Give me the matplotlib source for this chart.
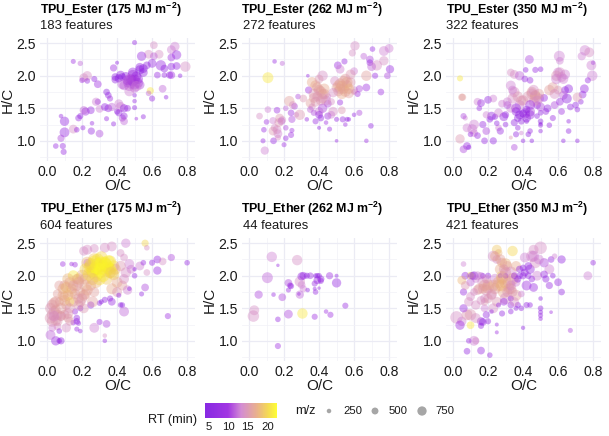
import numpy as np
import matplotlib.pyplot as plt
from matplotlib.colors import LinearSegmentedColormap

plt.rcParams["font.family"] = ["Liberation Sans", "DejaVu Sans"]
plt.rcParams["mathtext.fontset"] = "custom"
plt.rcParams["mathtext.bf"] = "Liberation Sans:bold"
plt.rcParams["mathtext.rm"] = "Liberation Sans:bold"
plt.rcParams["mathtext.default"] = "bf"

W, H = 609, 436

# values: O/C, H/C, m/z, RT for each panel
e175_oc = [.50, .61, .58, .64, .54, .61, .71, .73, .74, .71,
           .15, .19, .40, .38, .79, .65, .74, .71, .67, .60,
           .55, .53, .57, .63, .67, .70, .71, .76, .21, .23,
           .23, .20, .27, .29, .39, .41, .39, .43, .42, .45,
           .49, .50, .47, .52, .48, .50, .53, .51, .49, .46,
           .59, .58, .66, .60, .68, .50, .50, .50, .34, .35,
           .36, .29, .28, .25, .22, .18, .19, .21, .30, .33,
           .35, .37, .40, .41, .42, .44, .46, .41, .43, .44,
           .34, .38, .44, .51, .55, .08, .10, .15, .10, .08,
           .05, .09, .095, .17, .205, .257, .253, .30, .47, .43,
           .48, .50, .47, .52, .44, .55, .53, .49, .46, .51]
e175_hc = [2.51, 2.47, 2.33, 2.33, 2.30, 2.30, 2.40, 2.45, 2.32, 2.28,
           2.22, 2.19, 2.20, 2.12, 2.14, 2.16, 2.15, 2.14, 2.11, 2.19,
           2.11, 2.09, 2.16, 2.01, 2.01, 2.01, 2.01, 2.00, 1.97, 2.00,
           1.92, 1.93, 1.95, 1.87, 1.98, 1.96, 1.94, 1.98, 2.01, 1.99,
           2.01, 1.94, 1.84, 1.89, 1.94, 1.81, 1.86, 1.99, 2.05, 1.89,
           1.77, 1.73, 1.80, 1.65, 1.67, 1.61, 1.51, 1.70, 1.75, 1.70,
           1.65, 1.60, 1.60, 1.47, 1.45, 1.35, 1.38, 1.47, 1.49, 1.52,
           1.50, 1.52, 1.45, 1.57, 1.52, 1.50, 1.50, 1.43, 1.35, 1.38,
           1.34, 1.26, 1.30, 1.34, 1.37, 1.38, 1.30, 1.18, 1.13, 1.04,
           .92, .92, .83, 1.17, 1.20, 1.27, 1.15, 1.11, 1.76, 1.87,
           1.88, 1.87, 1.95, 1.95, 1.85, 2.05, 2.13, 1.92, 1.93, 1.84]
e175_mz = [250, 500, 600, 600, 650, 500, 600, 650, 650, 500,
           250, 280, 150, 450, 750, 750, 500, 500, 500, 600,
           600, 650, 500, 400, 300, 450, 500, 200, 600, 650,
           300, 300, 350, 500, 500, 550, 500, 500, 600, 600,
           750, 750, 700, 700, 750, 650, 650, 700, 700, 600,
           450, 300, 500, 350, 200, 200, 250, 200, 400, 400,
           350, 350, 550, 500, 550, 400, 350, 550, 500, 500,
           500, 550, 350, 600, 700, 550, 400, 450, 450, 450,
           250, 250, 500, 120, 250, 200, 650, 600, 700, 450,
           300, 350, 350, 300, 250, 200, 450, 500, 700, 700,
           750, 750, 700, 700, 650, 600, 600, 800, 700, 750]
e175_rt = [8, 14, 14, 14, 9, 12, 13, 13, 9, 10,
           10, 12, 7, 10, 14, 9, 9, 8, 8, 9,
           7, 7, 8, 9, 9, 9, 10, 7, 14, 14,
           9, 10, 8, 10, 7, 7, 8, 8, 8, 8,
           11, 12, 12, 11, 10, 12, 11, 10, 9, 11,
           21, 12, 12, 9, 8, 8, 7, 8, 7, 8,
           10, 8, 13, 9, 10, 9, 8, 12, 13, 8,
           9, 12, 8, 13, 13, 8, 10, 9, 11, 9,
           9, 8, 12, 10, 8, 9, 8, 14, 9, 11,
           9, 9, 9, 9, 9, 9, 9, 11, 13, 12,
           12, 11, 12, 10, 12, 8, 8, 11, 11, 13]

e262_oc = [.605, .59, .705, .655, .545, .69, .69, .77, .80, .77,
           .73, .70, .146, .19, .108, .507, .52, .42, .336, .67,
           .72, .805, .79, .753, .67, .696, .67, .50, .60, .60,
           .36, .38, .40, .42, .37, .35, .41, .43, .34, .40,
           .54, .52, .56, .55, .50, .53, .58, .49, .57, .51,
           .63, .62, .60, .48, .45, .47, .53, .52, .45, .36,
           .40, .42, .40, .41, .37, .33, .38, .44, .35, .45,
           .50, .535, .56, .57, .55, .60, .63, .40, .46, .47,
           .06, .108, .16, .21, .23, .137, .175, .185, .24, .245,
           .27, .29, .26, .28, .31, .25, .165, .146, .137, .09,
           .08, .14, .20, .085, .10, .24, .21, .21, .245, .165,
           .39, .41, .37, .38, .43, .44, .42, .39, .53, .55,
           .56, .52, .54, .51, .57, .58, .48, .16, .17, .19]
e262_hc = [2.46, 2.35, 2.41, 2.30, 2.22, 2.25, 2.20, 2.38, 2.42, 2.23,
           2.16, 2.14, 2.22, 2.19, 1.97, 2.16, 2.10, 2.00, 2.00, 2.00,
           2.00, 2.10, 2.00, 1.75, 1.82, 1.23, 1.00, 1.00, 2.07, 1.78,
           1.90, 1.85, 1.78, 1.72, 1.66, 1.58, 1.62, 1.80, 1.78, 1.95,
           1.80, 1.88, 1.85, 1.95, 1.82, 1.72, 1.90, 1.92, 1.80, 1.76,
           1.80, 1.72, 1.75, 1.45, 1.57, 1.60, 1.47, 1.59, 1.68, 1.52,
           1.45, 1.50, 1.40, 1.35, 1.43, 1.33, 1.30, 1.28, 1.48, 1.38,
           1.33, 1.33, 1.33, 1.33, 1.25, 1.40, 1.43, 1.20, 1.18, 1.40,
           1.38, 1.48, 1.47, 1.50, 1.61, 1.31, 1.35, 1.30, 1.43, 1.33,
           1.40, 1.40, 1.53, 1.68, 1.65, 1.55, 1.11, 1.20, 1.15, .85,
           1.00, 1.00, .94, 1.17, 1.29, 1.09, 1.04, 1.20, 1.16, 1.05,
           1.82, 1.76, 1.72, 1.60, 1.72, 1.62, 1.65, 1.68, 1.84, 1.76,
           1.90, 1.80, 1.92, 1.85, 1.73, 2.02, 1.74, 1.17, 1.28, 1.32]
e262_mz = [650, 450, 300, 400, 350, 500, 400, 700, 600, 650,
           750, 600, 200, 250, 800, 500, 600, 750, 120, 750,
           350, 550, 400, 400, 500, 300, 200, 120, 500, 500,
           750, 750, 750, 750, 700, 650, 700, 750, 450, 600,
           750, 750, 750, 750, 700, 750, 700, 650, 750, 700,
           450, 350, 350, 650, 500, 450, 500, 350, 400, 450,
           600, 650, 500, 400, 350, 200, 350, 200, 400, 450,
           250, 350, 250, 200, 200, 200, 350, 150, 250, 500,
           400, 400, 400, 300, 750, 450, 600, 500, 400, 450,
           300, 750, 400, 300, 500, 500, 600, 500, 600, 550,
           250, 400, 250, 300, 300, 350, 300, 300, 250, 350,
           750, 750, 750, 700, 750, 700, 700, 700, 800, 800,
           800, 750, 750, 750, 700, 700, 650, 600, 600, 500]
e262_rt = [14, 14, 9, 12, 9, 11, 9, 13, 13, 14,
           14, 12, 9, 12, 21, 10, 13, 14, 9, 16,
           9, 9, 11, 10, 10, 8, 10, 9, 13, 14,
           17, 17, 16, 17, 16, 16, 15, 17, 10, 15,
           17, 17, 17, 16, 16, 17, 15, 14, 18, 16,
           11, 10, 14, 14, 11, 14, 15, 9, 13, 14,
           13, 11, 9, 8, 11, 9, 9, 10, 12, 10,
           8, 9, 8, 8, 10, 9, 11, 7, 9, 13,
           14, 13, 10, 12, 16, 13, 15, 12, 10, 11,
           13, 15, 11, 11, 15, 14, 13, 14, 15, 13,
           9, 9, 10, 9, 10, 10, 9, 11, 10, 14,
           16, 16, 15, 15, 16, 14, 15, 15, 17, 17,
           17, 16, 16, 17, 16, 15, 14, 14, 15, 14]

e350_oc = [.753, .778, .735, .80, .79, .795, .77, .607, .61, .436,
           .04, .055, .50, .47, .415, .33, .35, .38, .41, .44,
           .60, .59, .62, .64, .57, .55, .60, .66, .64, .63,
           .47, .45, .49, .43, .48, .50, .46, .52, .44, .40,
           .38, .34, .36, .41, .33, .37, .31, .30, .35, .42,
           .44, .39, .37, .50, .50, .50, .53, .57, .62, .67,
           .70, .71, .73, .75, .74, .71, .58, .54, .61, .65,
           .22, .21, .24, .19, .17, .26, .28, .29, .26, .14,
           .16, .20, .23, .15, .12, .11, .08, .07, .06, .05,
           .04, .08, .06, .09, .12, .10, .18, .14, .19, .23,
           .25, .27, .30, .33, .35, .36, .39, .43, .44, .45,
           .50, .50, .66, .66, .71, .55, .63, .40, .42, .48,
           .33, .35, .37, .39, .45, .47, .49, .48, .46, .44,
           .59, .61, .58, .63, .34, .36, .38, .42, .31, .40]
e350_hc = [2.39, 2.36, 2.30, 2.20, 2.16, 2.00, 1.93, 2.30, 2.23, 2.25,
           1.96, 1.67, 2.10, 2.09, 2.09, 2.05, 2.02, 2.00, 1.95, 1.93,
           2.05, 2.00, 1.98, 2.02, 1.82, 1.78, 1.78, 1.80, 1.78, 1.70,
           1.70, 1.75, 1.65, 1.68, 1.55, 1.52, 1.60, 1.66, 1.45, 1.62,
           1.55, 1.65, 1.50, 1.42, 1.50, 1.35, 1.55, 1.40, 1.28, 1.35,
           1.40, 1.30, 1.20, 1.43, 1.30, 1.26, 1.45, 1.35, 1.45, 1.52,
           1.55, 1.48, 1.60, 1.80, 1.71, 1.67, 1.55, 1.50, 1.60, 1.65,
           1.38, 1.33, 1.37, 1.40, 1.25, 1.43, 1.57, 1.37, 1.20, 1.60,
           1.58, 1.63, 1.65, 1.50, 1.25, 1.18, 1.20, 1.35, 1.38, 1.67,
           1.03, .92, .87, .90, 1.12, 1.10, 1.00, 1.08, 1.15, 1.00,
           1.27, 1.15, 1.25, 1.05, .90, 1.10, 1.12, 1.10, 1.15, 1.00,
           1.24, 1.15, 1.30, 1.15, 1.00, 1.24, 1.00, 1.00, 1.30, 1.38,
           1.85, 1.75, 1.68, 1.62, 1.72, 1.68, 1.72, 1.62, 1.78, 1.55,
           1.95, 2.05, 1.72, 1.95, 1.78, 1.45, 1.40, 1.48, 1.60, 1.42]
e350_mz = [750, 700, 550, 200, 700, 750, 350, 800, 500, 600,
           350, 450, 300, 350, 300, 500, 600, 650, 400, 400,
           700, 750, 700, 700, 750, 750, 600, 600, 500, 600,
           750, 750, 750, 800, 500, 600, 700, 500, 700, 750,
           700, 750, 700, 750, 600, 500, 500, 450, 450, 600,
           650, 400, 300, 300, 300, 150, 400, 350, 400, 400,
           400, 300, 300, 600, 500, 650, 500, 500, 500, 700,
           600, 400, 350, 450, 450, 600, 500, 600, 400, 500,
           500, 500, 500, 300, 700, 700, 600, 250, 350, 450,
           650, 500, 500, 250, 500, 300, 400, 400, 500, 450,
           300, 450, 300, 150, 400, 350, 200, 300, 300, 200,
           250, 200, 200, 300, 200, 300, 200, 200, 250, 300,
           700, 750, 750, 700, 800, 800, 750, 700, 750, 700,
           750, 750, 700, 700, 600, 600, 600, 500, 600, 500]
e350_rt = [13, 14, 13, 9, 13, 13, 9, 13, 13, 11,
           21, 16, 9, 9, 8, 14, 14, 12, 9, 9,
           13, 15, 14, 13, 16, 16, 15, 8, 8, 12,
           16, 16, 13, 15, 9, 11, 14, 9, 11, 15,
           13, 14, 8, 10, 13, 8, 11, 9, 8, 10,
           9, 8, 9, 8, 7, 8, 9, 9, 10, 9,
           8, 9, 8, 9, 9, 15, 11, 8, 10, 7,
           8, 8, 8, 13, 9, 13, 13, 9, 13, 13,
           9, 8, 13, 9, 13, 13, 13, 13, 11, 16,
           15, 9, 11, 8, 13, 9, 9, 9, 11, 8,
           8, 9, 8, 15, 11, 8, 13, 7, 9, 7,
           8, 8, 8, 8, 8, 9, 8, 8, 7, 8,
           13, 14, 15, 15, 15, 16, 16, 14, 14, 10,
           13, 14, 14, 13, 13, 9, 8, 8, 13, 8]

t175_oc = [.56, .57, .45, .33, .27, .23, .21, .37, .42, .44,
           .28, .25, .35, .30, .33, .23, .38, .27, .31, .36,
           .29, .34, .26, .39, .24, .32, .28, .36, .30, .34,
           .20, .18, .15, .12, .10, .22, .17, .14, .19, .16,
           .09, .06, .07, .04, .03, .02, .05, .08, .10, .12,
           .13, .11, .15, .19, .21, .23, .25, .27, .22, .18,
           .40, .43, .45, .47, .42, .37, .40, .44, .46, .48,
           .50, .53, .55, .57, .60, .63, .66, .71, .80, .63,
           .56, .54, .69, .50, .33, .33, .30, .34, .27, .25,
           .30, .33, .37, .42, .43, .41, .44, .47, .31, .36,
           .16, .17, .18, .19, .17, .15, .08, .07, .05, .03,
           .02, .06, .17, .19, .07, .11, .13, .09, .16, .23,
           .14, .08, .03, .12, .05, .10, .06, .18, .21, .26,
           .24, .26, .28, .30, .32, .34, .36, .38, .25, .27,
           .29, .31, .33, .35, .37, .22, .26, .28, .30, .32,
           .02, .04, .06, .08, .10, .12, .14, .05, .07, .09,
           .11, .13, .15, .17, .20, .22, .18, .13, .03, .04]
t175_hc = [2.50, 2.43, 2.50, 2.43, 2.42, 2.40, 2.38, 2.45, 2.35, 2.28,
           2.10, 2.15, 2.12, 2.05, 2.20, 2.20, 2.15, 2.25, 2.28, 2.22,
           2.18, 2.08, 2.05, 2.10, 2.12, 2.15, 2.00, 2.05, 1.95, 1.95,
           2.00, 1.95, 2.00, 1.95, 1.85, 1.85, 1.85, 1.80, 1.75, 1.72,
           1.80, 1.72, 1.60, 1.45, 1.40, 1.35, 1.48, 1.38, 1.40, 1.35,
           1.60, 1.55, 1.60, 1.60, 1.70, 1.78, 1.85, 1.75, 1.95, 1.90,
           1.90, 1.85, 2.05, 2.18, 2.15, 1.80, 1.75, 1.95, 1.78, 2.10,
           2.00, 2.15, 2.20, 2.05, 2.20, 2.25, 2.22, 2.28, 2.20, 2.08,
           1.82, 1.72, 1.38, 2.10, 1.08, 1.00, 1.29, 1.26, 1.20, 1.55,
           1.58, 1.63, 1.60, 1.55, 1.55, 1.70, 1.45, 1.80, 1.60, 1.65,
           1.45, 1.35, 1.27, 1.15, 1.18, 1.28, 1.00, 1.00, 1.00, 1.20,
           1.09, 1.22, 1.30, 1.50, 1.15, 1.20, 1.30, 2.18, 2.17, 2.20,
           2.18, 1.38, 1.55, 1.42, 1.60, 1.68, 1.30, 1.65, 1.50, 1.60,
           2.02, 2.08, 2.12, 2.16, 2.12, 2.16, 2.10, 2.02, 2.18, 2.22,
           2.25, 2.20, 2.18, 2.22, 2.05, 2.10, 1.95, 1.90, 2.10, 2.00,
           1.50, 1.58, 1.40, 1.50, 1.62, 1.70, 1.75, 1.32, 1.85, 1.70,
           1.82, 1.90, 1.85, 1.95, 1.65, 1.72, 1.55, 1.50, 1.30, 1.38]
t175_mz = [450, 300, 650, 700, 600, 700, 650, 700, 500, 500,
           950, 950, 950, 950, 950, 900, 850, 950, 950, 900,
           950, 900, 900, 800, 850, 900, 950, 850, 950, 850,
           900, 850, 800, 850, 750, 900, 800, 750, 700, 750,
           750, 650, 600, 800, 800, 850, 700, 650, 700, 650,
           650, 700, 700, 750, 800, 800, 750, 700, 850, 800,
           800, 700, 750, 700, 750, 800, 700, 700, 650, 600,
           300, 600, 300, 400, 350, 500, 500, 450, 300, 550,
           500, 250, 350, 180, 200, 200, 350, 500, 700, 450,
           300, 350, 500, 300, 300, 250, 700, 200, 250, 350,
           350, 400, 250, 200, 250, 300, 450, 300, 650, 500,
           700, 500, 400, 350, 300, 650, 600, 300, 300, 500,
           200, 700, 800, 750, 800, 750, 700, 750, 700, 800,
           950, 950, 950, 950, 950, 950, 900, 850, 900, 900,
           900, 950, 950, 950, 900, 900, 900, 850, 950, 950,
           800, 800, 750, 800, 800, 800, 750, 800, 700, 750,
           800, 750, 750, 700, 750, 750, 700, 700, 800, 750]
t175_rt = [20, 14, 13, 14, 14, 14, 14, 14, 14, 14,
           22, 22, 21, 22, 20, 18, 20, 19, 20, 20,
           21, 21, 20, 18, 20, 20, 22, 18, 22, 19,
           17, 18, 21, 18, 16, 17, 16, 18, 16, 16,
           18, 16, 16, 15, 15, 15, 16, 16, 15, 16,
           21, 16, 17, 16, 17, 17, 17, 16, 17, 16,
           17, 16, 14, 13, 15, 17, 15, 14, 13, 13,
           8, 13, 9, 14, 9, 9, 14, 11, 8, 9,
           11, 8, 10, 7, 14, 9, 10, 11, 13, 8,
           7, 8, 9, 7, 7, 8, 12, 8, 7, 9,
           9, 8, 9, 9, 9, 9, 8, 8, 9, 13,
           12, 14, 8, 8, 9, 14, 15, 10, 10, 13,
           10, 15, 15, 15, 16, 17, 15, 16, 15, 16,
           20, 21, 22, 22, 21, 22, 21, 19, 20, 21,
           21, 22, 21, 22, 20, 20, 19, 18, 22, 21,
           15, 16, 15, 16, 17, 18, 17, 15, 16, 17,
           18, 17, 16, 17, 15, 16, 15, 15, 15, 14]

t262_oc = [.13, .275, .165, .105, .225, .235, .29, .30, .31, .29,
           .225, .285, .055, .14, .19, .375, .55, .50, .46, .40,
           .41, .39, .38, .35, .33, .31, .38, .40, .375, .335,
           .50, .03, .025, .44, .465, .225, .305, .375, .165, .165,
           .24, .39, .41, .30]
t262_hc = [2.29, 2.24, 2.16, 1.97, 1.89, 1.85, 1.91, 1.86, 1.80, 1.71,
           1.78, 1.72, 1.71, 1.71, 1.67, 1.88, 1.54, 1.89, 2.00, 2.00,
           1.95, 2.00, 2.00, 2.00, 2.00, 2.00, 1.75, 1.81, 1.80, 1.78,
           2.00, 1.47, 1.38, 1.45, 1.40, 1.41, 1.42, 1.37, 1.33, .92,
           1.84, 1.93, 1.92, 1.99]
t262_mz = [750, 750, 100, 800, 500, 350, 750, 500, 450, 550,
           250, 120, 550, 200, 500, 350, 350, 650, 450, 300,
           450, 300, 250, 400, 350, 500, 300, 100, 150, 200,
           150, 700, 850, 200, 350, 600, 750, 350, 300, 350,
           350, 500, 350, 550]
t262_rt = [13, 14, 9, 12, 11, 9, 14, 13, 13, 12,
           9, 9, 11, 9, 11, 9, 9, 8, 10, 7,
           8, 8, 7, 9, 8, 9, 9, 9, 8, 7,
           7, 14, 14, 10, 10, 11, 21, 10, 9, 10,
           9, 9, 9, 9]

t350_oc = [.50, .46, .45, .41, .25, .26, .25, .34, .30, .23,
           .28, .31, .27, .33, .36, .24, .28, .30, .26, .34,
           .32, .23, .20, .17, .19, .22, .15, .25, .18, .33,
           .29, .36, .30, .17, .20, .27, .30, .16, .12, .10,
           .07, .05, .13, .10, .20, .06, .02, .05, .08, .10,
           .13, .06, .04, .10, .16, .17, .18, .23, .19, .16,
           .13, .12, .08, .21, .16, .09, .25, .25, .40, .42,
           .37, .39, .42, .44, .47, .48, .52, .55, .56, .58,
           .62, .62, .55, .57, .60, .50, .50, .50, .50, .50,
           .56, .67, .80, .77, .43, .40, .38, .45, .46, .44,
           .36, .39, .33, .33, .28, .33, .36, .29, .26, .22,
           .20, .18, .17, .14, .12, .10, .07, .06, .11, .14,
           .24, .26, .28, .30, .32, .34, .22, .18, .20, .16,
           .28, .31, .35, .33, .29, .27, .24, .19, .13, .09,
           .40, .43, .46, .49, .52, .38, .41, .35, .37, .53]
t350_hc = [2.43, 2.40, 2.30, 2.28, 2.40, 2.35, 2.25, 2.38, 2.18, 2.30,
           2.20, 2.15, 2.10, 2.05, 2.15, 1.95, 1.98, 1.90, 1.85, 1.95,
           1.90, 1.85, 1.82, 1.90, 1.78, 1.70, 1.80, 1.60, 1.65, 1.80,
           1.75, 1.70, 1.65, 2.00, 2.00, 2.00, 2.00, 2.00, 2.00, 2.00,
           2.00, 1.93, 1.95, 1.90, 1.86, 1.75, 1.36, 1.30, 1.40, 1.40,
           1.55, 1.50, 1.24, 1.24, 1.30, 1.29, 1.50, 1.50, 1.40, 1.23,
           1.00, 1.00, .84, .78, .85, 1.00, 1.25, 1.13, 1.20, 1.55,
           1.55, 1.50, 1.85, 2.10, 2.20, 2.00, 2.20, 2.10, 2.25, 2.30,
           2.25, 1.75, 1.85, 2.00, 1.90, 1.65, 1.50, 1.44, 1.39, 1.34,
           1.44, 1.16, 2.20, 2.00, 2.15, 2.12, 2.10, 1.95, 1.82, 1.55,
           1.90, 1.72, 1.65, 1.45, 1.42, 1.55, 1.50, 1.60, 1.55, 1.45,
           1.30, 1.60, 1.80, 1.78, 1.75, 1.68, 1.85, 2.18, 2.00, 2.00,
           1.80, 1.90, 1.95, 2.05, 1.80, 1.75, 1.72, 1.85, 1.65, 1.62,
           1.85, 1.75, 1.60, 1.85, 2.10, 2.25, 2.30, 1.95, 1.35, 1.60,
           2.00, 2.00, 2.30, 2.25, 2.02, 2.00, 2.05, 2.00, 1.95, 1.95]
t350_mz = [950, 700, 850, 700, 700, 500, 600, 750, 850, 800,
           700, 700, 800, 900, 700, 750, 900, 950, 900, 900,
           950, 850, 900, 800, 800, 700, 750, 700, 600, 800,
           900, 800, 850, 300, 350, 250, 300, 450, 600, 500,
           500, 600, 500, 550, 800, 450, 950, 650, 800, 850,
           650, 550, 650, 500, 550, 500, 500, 700, 450, 350,
           450, 700, 400, 300, 500, 300, 150, 150, 180, 350,
           350, 300, 700, 650, 800, 700, 650, 700, 400, 300,
           550, 400, 450, 300, 500, 200, 300, 250, 250, 200,
           120, 250, 300, 600, 500, 400, 450, 400, 600, 300,
           600, 400, 350, 300, 350, 400, 250, 500, 250, 200,
           350, 500, 700, 700, 500, 600, 600, 300, 500, 600,
           800, 850, 800, 800, 800, 700, 750, 850, 650, 600,
           900, 700, 650, 700, 700, 750, 700, 600, 700, 650,
           450, 400, 800, 700, 500, 400, 500, 400, 450, 450]
t350_rt = [14, 14, 14, 13, 19, 18, 14, 20, 18, 14,
           17, 16, 17, 14, 17, 13, 19, 17, 18, 17,
           15, 16, 17, 14, 15, 14, 17, 15, 14, 16,
           17, 16, 14, 7, 8, 8, 8, 12, 7, 20,
           9, 18, 13, 12, 17, 9, 14, 13, 15, 15,
           14, 9, 10, 21, 8, 8, 13, 14, 9, 8,
           14, 13, 8, 9, 9, 9, 9, 10, 7, 8,
           8, 8, 10, 9, 14, 13, 11, 13, 9, 13,
           8, 8, 9, 8, 9, 7, 8, 8, 9, 9,
           10, 11, 9, 13, 8, 8, 8, 9, 9, 8,
           13, 13, 8, 8, 8, 9, 8, 9, 8, 8,
           9, 15, 16, 15, 14, 14, 15, 13, 8, 13,
           16, 17, 17, 15, 16, 15, 15, 16, 15, 14,
           18, 15, 14, 14, 15, 16, 17, 14, 14, 14,
           9, 9, 13, 13, 9, 8, 8, 9, 8, 8]

titles = ["TPU_Ester (175 MJ m$^{-2}$)", "TPU_Ester (262 MJ m$^{-2}$)", "TPU_Ester (350 MJ m$^{-2}$)",
          "TPU_Ether (175 MJ m$^{-2}$)", "TPU_Ether (262 MJ m$^{-2}$)", "TPU_Ether (350 MJ m$^{-2}$)"]
features = ["183 features", "272 features", "322 features",
            "604 features", "44 features", "421 features"]
panel_oc = [e175_oc, e262_oc, e350_oc, t175_oc, t262_oc, t350_oc]
panel_hc = [e175_hc, e262_hc, e350_hc, t175_hc, t262_hc, t350_hc]
panel_mz = [e175_mz, e262_mz, e350_mz, t175_mz, t262_mz, t350_mz]
panel_rt = [e175_rt, e262_rt, e350_rt, t175_rt, t262_rt, t350_rt]

legend_rt_ticks = [5, 10, 15, 20]
legend_mz = [250, 500, 750]

rt_cmap = LinearSegmentedColormap.from_list(
    "rt", [(0, "#7a10e0"), (0.32, "#9820e0"), (0.5, "#cf7fd0"),
           (0.72, "#e8a880"), (0.88, "#f4d840"), (1, "#ffff20")])
RT_MIN, RT_MAX = 4, 22.5


def mz_size(mz):
    # marker area from m/z, radius in pixels is about 1.2 + mz / 750 * 4
    r = 1.2 + np.asarray(mz, dtype=float) / 750 * 4
    return (2 * r * 0.72) ** 2


def px_axes(left, top, right, bottom):
    return fig.add_axes([left / W, 1 - bottom / H, (right - left) / W, (bottom - top) / H])


fig = plt.figure(figsize=(W / 100, H / 100), dpi=100)

lefts = [40, 242, 446]
tops = [38, 238]
for i in range(6):
    row, col = i // 3, i % 3
    ax = px_axes(lefts[col], tops[row], lefts[col] + 155, tops[row] + 123)
    ax.scatter(panel_oc[i], panel_hc[i], s=mz_size(panel_mz[i]), c=panel_rt[i],
               cmap=rt_cmap, vmin=RT_MIN, vmax=RT_MAX, alpha=0.4, linewidths=0, zorder=3)
    ax.set_xlim(-0.04, 0.845)
    ax.set_ylim(0.69, 2.58)
    ax.set_xticks([0, 0.2, 0.4, 0.6, 0.8], ["0.0", "0.2", "0.4", "0.6", "0.8"])
    ax.set_yticks([1, 1.5, 2, 2.5], ["1.0", "1.5", "2.0", "2.5"])
    ax.set_xticks([0.1, 0.3, 0.5, 0.7], minor=True)
    ax.set_yticks([0.75, 1.25, 1.75, 2.25], minor=True)
    ax.grid(which="major", color="#ebebf4", linewidth=0.9)
    ax.grid(which="minor", color="#f1f1f7", linewidth=0.5)
    ax.set_axisbelow(True)
    for s in ax.spines.values():
        s.set_visible(False)
    ax.tick_params(which="both", length=0)
    ax.tick_params(axis="both", labelsize=10.1, colors="#1a1a1a", pad=3)
    ax.set_xlabel("O/C", fontsize=11, color="#1a1a1a", labelpad=0)
    ax.set_ylabel("H/C", fontsize=11, color="#1a1a1a", labelpad=1)
    tx = lefts[col] + (-1 if col == 1 else 0)
    fig.text(tx / W, 1 - [10, 209][row] / H, titles[i], fontsize=8.9, fontweight="bold",
             color="black", va="center", ha="left")
    fig.text((lefts[col] + (1 if col == 1 else 0)) / W, 1 - [26, 226][row] / H, features[i],
             fontsize=9.4, color="#1a1a1a", va="center", ha="left")

# colour bar
cax = px_axes(205, 403, 277, 418)
grad = np.linspace(RT_MIN, RT_MAX, 256).reshape(1, -1)
cax.imshow(grad, aspect="auto", cmap=rt_cmap, vmin=RT_MIN, vmax=RT_MAX,
           extent=[RT_MIN, RT_MAX, 0, 1], alpha=0.9)
cax.set_yticks([])
cax.set_xticks(legend_rt_ticks, [str(t) for t in legend_rt_ticks])
cax.tick_params(axis="x", length=0, labelsize=8.2, colors="#1a1a1a", pad=3)
for s in cax.spines.values():
    s.set_visible(False)
fig.text(148 / W, 1 - 420 / H, "RT (min)", fontsize=9.2, color="#1a1a1a", va="center")

# size legend
lax = px_axes(285, 400, 470, 422)
lax.set_xlim(285, 470)
lax.set_ylim(422, 400)
lax.axis("off")
lax.scatter([329, 375, 422], [411, 411, 411], s=mz_size(legend_mz) * 0.8, color="black",
            alpha=0.35, linewidths=0)
fig.text(295 / W, 1 - 411 / H, "m/z", fontsize=9.2, color="#1a1a1a", va="center")
for x, m in zip([343, 389, 435], legend_mz):
    fig.text(x / W, 1 - 411 / H, str(m), fontsize=8.2, color="#1a1a1a", va="center")

fig.savefig("out.png", dpi=100, facecolor="white")
